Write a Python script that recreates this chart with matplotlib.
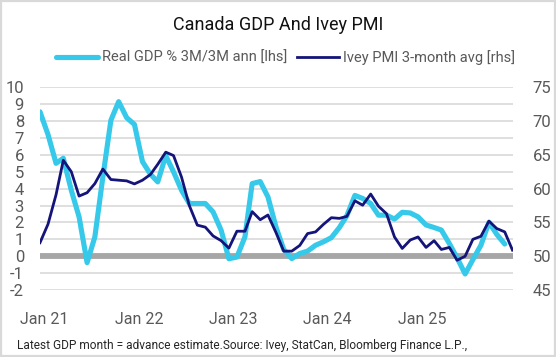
import matplotlib
matplotlib.use("Agg")
import matplotlib.pyplot as plt
import matplotlib.dates as mdates
from matplotlib.patches import Rectangle
import pandas as pd

plt.rcParams['font.family'] = ['Roboto', 'DejaVu Sans']
plt.rcParams['axes.unicode_minus'] = False

# ---- data (monthly, mid-month dates) ----
months_ivey = pd.date_range('2020-12-01', periods=61, freq='MS') + pd.Timedelta(days=14)
months_gdp = months_ivey[:60]

gdp = [8.55, 7.2, 5.5, 5.8, 3.9, 2.33, -0.38, 1.14, 4.7, 8.05,
       9.15, 8.2, 7.8, 5.6, 4.85, 4.4, 5.95, 5.0, 3.9, 3.12,
       3.12, 3.12, 2.62, 1.54, -0.15, -0.05, 1.14, 4.3, 4.42, 3.51,
       1.73, 0.4, -0.14, 0.16, 0.3, 0.65, 0.85, 1.1, 1.7, 2.4,
       3.6, 3.42, 3.12, 2.43, 2.43, 2.2, 2.6, 2.56, 2.33, 1.85,
       1.7, 1.55, 0.75, -0.1, -1.05, -0.2, 0.65, 2.0, 1.3, 0.72]

ivey = [52.0, 54.75, 59.1, 64.2, 62.5, 58.9, 59.4, 60.75, 62.9, 61.35,
        61.25, 61.15, 60.7, 61.25, 62.1, 63.6, 65.4, 64.9, 61.7, 57.5,
        54.6, 54.3, 53.0, 52.3, 51.2, 53.7, 53.7, 56.6, 55.4, 56.1,
        53.5, 50.75, 50.75, 51.6, 53.35, 53.6, 54.7, 55.7, 55.6, 55.9,
        58.2, 57.55, 59.2, 57.4, 56.3, 52.85, 51.15, 52.4, 52.85, 51.3,
        52.3, 51.0, 51.3, 49.4, 50.0, 52.5, 52.95, 55.2, 54.1, 53.6,
        50.9]

left_ticks = list(range(-2, 11))
right_ticks = list(range(45, 80, 5))
x_tick_dates = pd.to_datetime(['2021-01-01', '2022-01-01', '2023-01-01', '2024-01-01', '2025-01-01'])
x_tick_labels = ['Jan 21', 'Jan 22', 'Jan 23', 'Jan 24', 'Jan 25']

title = 'Canada GDP And Ivey PMI'
gdp_label = 'Real GDP % 3M/3M ann [lhs]'
ivey_label = 'Ivey PMI 3-month avg [rhs]'
footer = 'Latest GDP month = advance estimate.Source: Ivey, StatCan, Bloomberg Finance L.P.,'

# ---- colours ----
c_gdp = '#36C9EA'
c_ivey = '#14147A'
c_grid = '#D9D9D9'
c_zero = '#A6A6A6'
c_tick = '#595959'

W, H = 556, 357
fig = plt.figure(figsize=(W / 100, H / 100), dpi=100)
ax = fig.add_axes([40 / W, 1 - 290 / H, (513 - 40) / W, (290 - 87.3) / H])

ax.set_ylim(-2, 10)
ax.set_yticks(left_ticks)
ax.set_yticklabels([str(t) for t in left_ticks])
ax.set_xlim(months_ivey[0], months_ivey[-1] + pd.Timedelta(days=2))
ax.set_xticks(x_tick_dates)
ax.set_xticklabels(x_tick_labels)

for y in left_ticks:
    if y != 0:
        ax.axhline(y, color=c_grid, lw=1.2, zorder=0.5)
ax.axhline(0, color=c_zero, lw=4.2, zorder=1)

l1, = ax.plot(months_gdp, gdp, color=c_gdp, lw=3.7, solid_capstyle='round',
              solid_joinstyle='round', zorder=2, label=gdp_label)

ax2 = ax.twinx()
ax2.set_ylim(45, 75)
ax2.set_yticks(right_ticks)
ax2.set_yticklabels([str(t) for t in right_ticks])
l2, = ax2.plot(months_ivey, ivey, color=c_ivey, lw=2.0, solid_joinstyle='round',
               zorder=3, label=ivey_label)

for a in (ax, ax2):
    for s in a.spines.values():
        s.set_visible(False)

ax.tick_params(axis='y', length=0, pad=11.5, labelsize=12, labelcolor=c_tick)
ax.tick_params(axis='x', length=0, pad=16, labelsize=11.5, labelcolor=c_tick)
ax2.tick_params(axis='y', length=0, pad=14, labelsize=12, labelcolor=c_tick)

fig.text(0.5, 1 - 25 / H, title, ha='center', va='center', fontsize=13, color='#111111')

leg = fig.legend(handles=[l1, l2], loc='center', bbox_to_anchor=(285.5 / W, 1 - 57.8 / H),
                 ncol=2, frameon=False, fontsize=10.5, handlelength=2.9,
                 handletextpad=0.3, columnspacing=0.6, borderpad=0, borderaxespad=0)
for t in leg.get_texts():
    t.set_color(c_tick)

fig.text(17 / W, 1 - 345 / H, footer, ha='left', va='center', fontsize=8.6, color='#262626')

fig.patches.append(Rectangle((0.002, 0.003), 0.996, 0.994, transform=fig.transFigure,
                             fill=False, edgecolor='#D9D9D9', linewidth=1.6))

fig.savefig('out.png', dpi=100)
